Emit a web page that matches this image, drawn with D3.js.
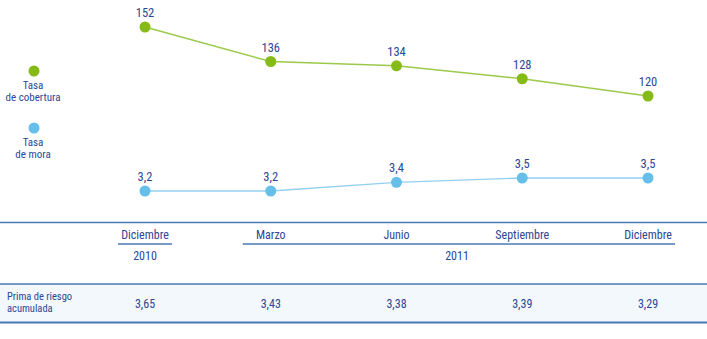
<!DOCTYPE html>
<html><head><meta charset="utf-8">
<script src="https://cdn.jsdelivr.net/npm/d3@7"></script>
<style>body{margin:0;background:#fff}svg{display:block}</style>
</head><body>
<script>
const periods = ["Diciembre","Marzo","Junio","Septiembre","Diciembre"];
const years = [{label:"2010", from:0, to:0},{label:"2011", from:1, to:4}];
const cobertura = [152,136,134,128,120];
const mora = [3.2,3.2,3.4,3.5,3.5];
const prima = ["3,65","3,43","3,38","3,39","3,29"];
const legendLabels = [["Tasa","de cobertura"],["Tasa","de mora"]];
const rowLabel = ["Prima de riesgo","acumulada"];

const W=707,H=339;
const font = "'Liberation Sans Narrow','Roboto Condensed','Liberation Sans',Arial,sans-serif";
const txt = "#2b4796";
const green="#86bb17", greenLine="#9cc94a", blue="#66bfe9", blueLine="#93d0ef", rule="#4a78b5";

const svg=d3.select("body").append("svg").attr("width",W).attr("height",H)
  .style("font-family",font);

const x=d3.scalePoint().domain(d3.range(periods.length)).range([145,648]);
const yG=d3.scaleLinear().domain([120,152]).range([96,27]);
const yB=d3.scaleLinear().domain([3.2,3.5]).range([191,178]);
const fmt = v => String(v).replace(".",",");

function series(data,y,col,lineCol){
  svg.append("path").datum(data)
    .attr("d",d3.line().x((d,i)=>x(i)).y(d=>y(d)))
    .attr("fill","none").attr("stroke",lineCol).attr("stroke-width",1.4);
  svg.selectAll(null).data(data).enter().append("circle")
    .attr("cx",(d,i)=>x(i)).attr("cy",d=>y(d)).attr("r",5.5).attr("fill",col);
  svg.selectAll(null).data(data).enter().append("text")
    .attr("x",(d,i)=>x(i)).attr("y",d=>y(d)-10)
    .attr("text-anchor","middle").attr("fill",txt).attr("font-size",12.5)
    .text(d=>fmt(d));
}
series(cobertura,yG,green,greenLine);
series(mora,yB,blue,blueLine);

// legend
[[green,71],[blue,128]].forEach(([c,cy],k)=>{
  svg.append("circle").attr("cx",34).attr("cy",cy).attr("r",5.5).attr("fill",c);
  legendLabels[k].forEach((t,j)=>{
    svg.append("text").attr("x",33).attr("y",cy+18+j*12).attr("text-anchor","middle")
      .attr("fill",txt).attr("font-size",11).text(t);
  });
});

// table
svg.append("line").attr("x1",0).attr("x2",W).attr("y1",222.5).attr("y2",222.5).attr("stroke",rule).attr("stroke-width",1.3);
svg.append("rect").attr("x",0).attr("y",284).attr("width",W).attr("height",38.5).attr("fill","#f3f8fc");
svg.append("line").attr("x1",0).attr("x2",W).attr("y1",284).attr("y2",284).attr("stroke",rule).attr("stroke-width",1.3);
svg.append("line").attr("x1",0).attr("x2",W).attr("y1",322.5).attr("y2",322.5).attr("stroke",rule).attr("stroke-width",1.8);

svg.selectAll(null).data(periods).enter().append("text")
  .attr("x",(d,i)=>x(i)).attr("y",239).attr("text-anchor","middle")
  .attr("fill",txt).attr("font-size",12).text(d=>d);

years.forEach(yr=>{
  const x0=x(yr.from)-27, x1=x(yr.to)+27;
  svg.append("line").attr("x1",yr.from===yr.to?x0:x(yr.from)-28).attr("x2",x1)
    .attr("y1",244).attr("y2",244).attr("stroke",rule).attr("stroke-width",1.3);
  const cx = yr.from===yr.to ? x(yr.from) : 457;
  svg.append("text").attr("x",cx).attr("y",260).attr("text-anchor","middle")
    .attr("fill",txt).attr("font-size",12).text(yr.label);
});

rowLabel.forEach((t,j)=>svg.append("text").attr("x",7).attr("y",300+j*12)
  .attr("fill",txt).attr("font-size",10.5).text(t));
svg.selectAll(null).data(prima).enter().append("text")
  .attr("x",(d,i)=>x(i)).attr("y",308).attr("text-anchor","middle")
  .attr("fill",txt).attr("font-size",12).text(d=>d);
</script>
</body></html>
